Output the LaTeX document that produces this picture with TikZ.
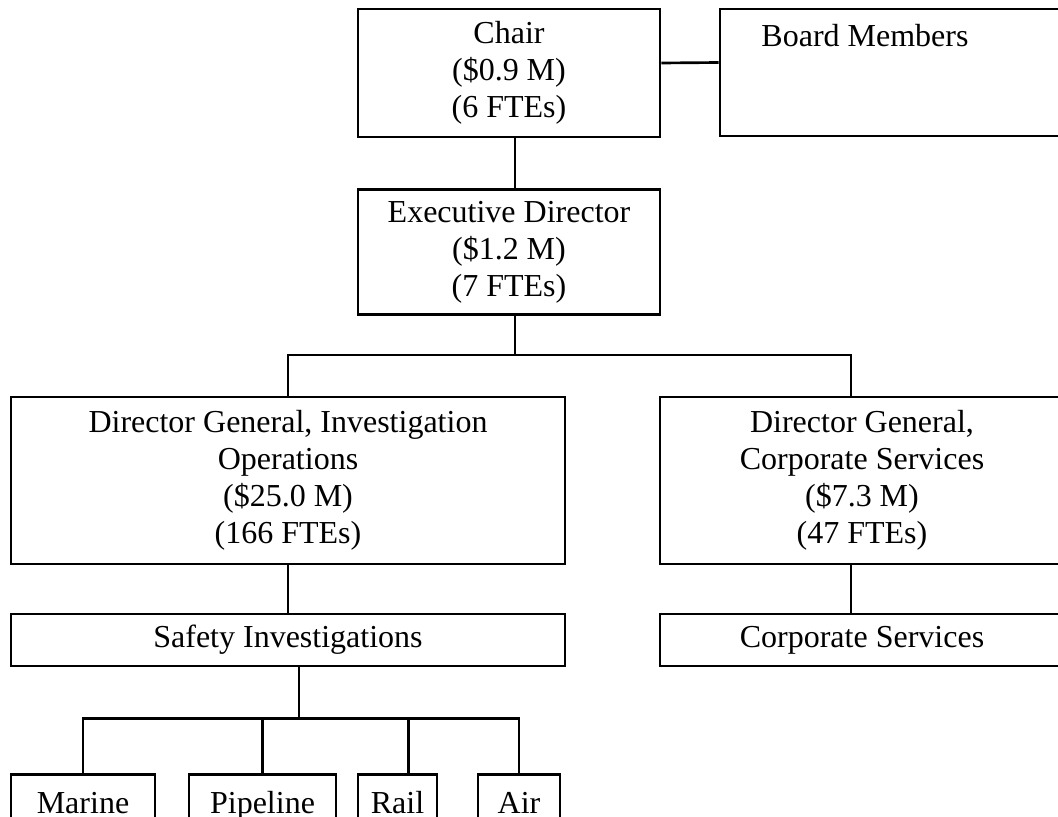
\documentclass[tikz,border=0pt]{standalone}
\usepackage{fontspec}
\setmainfont{Liberation Serif}

\begin{document}
\begin{tikzpicture}[x=0.75pt, y=-0.75pt, line width=2pt,
  box/.style={draw, inner sep=0pt, align=center,
    font=\fontsize{24pt}{27.75pt}\selectfont},
  leaf/.style={box, anchor=north, inner ysep=12.75pt,
    text height=16.5pt, text depth=6pt}]

\useasboundingbox (0,0) rectangle (1058,817);

% top of the chart
\node [box, minimum width=226.5pt, minimum height=96pt] (chair) at (509,73)
  {Chair\\(\$0.9 M)\\(6 FTEs)};
\node [box, minimum width=258pt, minimum height=95.25pt] (board) at (892,72.5)
  {Board Members\hspace*{40.5pt}\\\mbox{}\\\mbox{}};
\node [box, minimum width=226.5pt, minimum height=93.75pt] (exec) at (509,252)
  {Executive Director\\(\$1.2 M)\\(7 FTEs)};

% directors general
\node [box, minimum width=415.5pt, minimum height=125.25pt] (dg-ops) at (288,480.5)
  {Director General, Investigation\\Operations\\(\$25.0 M)\\(166 FTEs)};
\node [box, minimum width=303pt, minimum height=125.25pt] (dg-corp) at (862,480.5)
  {Director General,\\Corporate Services\\(\$7.3 M)\\(47 FTEs)};

\node [box, minimum width=415.5pt, minimum height=39pt] (safety) at (288,640)
  {Safety Investigations};
\node [box, minimum width=303pt, minimum height=39pt] (corp) at (862,640)
  {Corporate Services};

% connectors
\draw ([yshift=7.5pt]chair.east) -- ([yshift=7.5pt]board.west);
\draw ([xshift=4.5pt]chair.south) -- ([xshift=4.5pt]exec.north);

\draw ([xshift=4.5pt]exec.south) -- ++(0,39) coordinate (dg-bar);
\draw (dg-bar) -| (dg-ops.north);
\draw (dg-bar) -| ([xshift=-8.25pt]dg-corp.north);

\draw (dg-ops) -- (safety);
\draw ([xshift=-8.25pt]dg-corp.south) -- ([xshift=-8.25pt]corp.north);

\draw ([xshift=8.25pt]safety.south) -- ++(0,51) coordinate (leaf-bar);

% the four branches
\foreach \n/\x/\w/\s in {Marine/83/108/0, Pipeline/262.5/110.25/0,
    Rail/397.5/59.25/8.25, Air/519/61.5/0} {
  \node [leaf, minimum width=\w pt] (leaf-\n) at (\x,773) {\n};
  \draw (leaf-bar) -| ([xshift=\s pt]leaf-\n.north);
}

\end{tikzpicture}
\end{document}
